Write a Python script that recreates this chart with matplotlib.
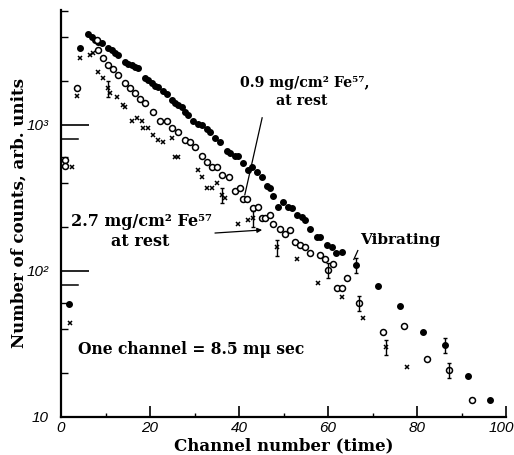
import matplotlib
matplotlib.use("Agg")
import matplotlib.pyplot as plt
import matplotlib.transforms as mtransforms
from matplotlib.ticker import FixedLocator, FixedFormatter

# ---- data ----
filled_ch = [1.8, 4.3, 6.1, 7.0, 7.6, 8.3, 9.2, 10.6, 11.5, 12.1, 12.8, 14.4,
             15.1, 16.0, 16.6, 17.3, 18.9, 19.6, 20.4, 21.1, 21.8, 22.9,
             23.8, 24.9, 25.6, 26.3, 27.2, 27.9, 28.5, 29.7, 30.8, 31.7,
             32.8, 33.5, 34.6, 35.7, 37.3, 38.0, 39.1, 39.8, 40.9, 42.0,
             42.9, 44.0, 45.2, 46.3, 47.0, 47.6, 48.8, 49.9, 51.0, 51.9,
             53.0, 54.2, 54.8, 56.0, 57.5, 58.2, 59.8, 60.9, 61.8, 63.1,
             66.3, 71.2, 76.2, 81.4, 86.3, 91.4, 96.4]
filled_val = [59, 3390, 4170, 3980, 3800, 3720, 3630, 3390, 3240, 3090, 3020, 2690,
              2630, 2570, 2510, 2450, 2090, 2040, 1950, 1860, 1820, 1700,
              1620, 1480, 1410, 1380, 1320, 1230, 1170, 1070, 1020, 1000,
              933, 891, 813, 759, 661, 646, 617, 617, 550, 490,
              513, 479, 437, 380, 372, 324, 275, 295, 275, 269,
              240, 234, 224, 195, 170, 170, 151, 145, 132, 135,
              110, 79, 58, 38, 31, 19, 13]

open_ch = [1.0, 1.0, 3.6, 8.1, 8.3, 9.4, 10.6, 11.7, 12.8, 14.4, 15.5, 16.6,
           17.8, 18.9, 20.7, 22.2, 23.8, 24.9, 26.3, 27.9, 29.0, 30.1,
           31.7, 32.8, 33.9, 35.1, 36.2, 37.8, 39.1, 40.2, 40.9, 41.8,
           43.1, 44.3, 45.2, 45.8, 47.0, 47.6, 49.2, 50.3, 51.5, 52.6,
           53.7, 54.8, 56.0, 58.2, 59.3, 60.0, 61.1, 62.0, 63.1, 64.3,
           67.0, 72.4, 77.1, 82.2, 87.2, 92.4]
open_val = [575, 525, 1780, 3800, 3240, 2880, 2570, 2400, 2190, 1950, 1780, 1660,
            1510, 1410, 1230, 1070, 1070, 955, 891, 794, 759, 708,
            617, 562, 513, 513, 457, 437, 355, 372, 309, 309,
            269, 275, 229, 229, 240, 209, 195, 178, 191, 158,
            151, 145, 132, 129, 120, 102, 112, 76, 76, 89,
            60, 38, 42, 25, 21, 13]

cross_ch = [2.0, 2.5, 3.6, 4.3, 6.5, 7.2, 8.3, 9.4, 10.6, 11.0, 12.6, 13.9,
            14.4, 16.0, 17.1, 18.2, 18.4, 19.6, 20.7, 21.8, 22.9, 24.9,
            25.6, 26.3, 30.8, 31.7, 32.8, 33.9, 35.1, 36.2, 36.9, 39.8,
            42.0, 43.1, 48.5, 53.0, 57.8, 63.1, 67.9, 73.0, 77.8]
cross_val = [44, 513, 1580, 2880, 3020, 3090, 2290, 2090, 1780, 1660, 1550, 1380,
             1320, 1070, 1120, 1070, 955, 955, 851, 794, 759, 813,
             603, 603, 490, 437, 372, 372, 398, 331, 316, 209,
             224, 229, 145, 120, 83, 66, 48, 30, 22]

# points drawn with statistical error bars
err_filled_ch = [66.3, 86.3]
err_filled_val = [110, 31]
err_open_ch = [60.0, 67.0, 87.2]
err_open_val = [102, 60, 21]
err_cross_ch = [10.6, 36.2, 43.1, 48.5, 73.0]
err_cross_val = [1780, 331, 229, 145, 30]
err_rel = 0.12

x_ticks = [0, 20, 40, 60, 80, 100]
x_ticklabels = ["0", "20", "40", "60", "80", "100"]
y_ticks = [10, 100, 1000]
y_ticklabels = ["10", "10²", "10³"]

# ---- figure ----
fig = plt.figure(figsize=(5.14, 4.55), dpi=100)
ax = fig.add_axes([61/514, 1-417/455, 445/514, 407/455])
ax.set_yscale("log")
ax.set_xlim(0, 100)
ax.set_ylim(10, 10**(1+407/146))

ax.plot(filled_ch, filled_val, "o", ms=4.0, color="black", mec="black")
ax.plot(open_ch, open_val, "o", ms=4.3, mfc="white", mec="black", mew=1.1)
ax.plot(cross_ch, cross_val, "x", ms=3.3, color="black", mew=1.1)

for chs, vals in ((err_filled_ch, err_filled_val), (err_open_ch, err_open_val),
                  (err_cross_ch, err_cross_val)):
    ax.errorbar(chs, vals, yerr=[[v*err_rel for v in vals], [v*err_rel for v in vals]],
                fmt="none", ecolor="black", elinewidth=1.0, capsize=1.5)

for s in ("top", "right"):
    ax.spines[s].set_visible(False)
ax.spines["left"].set_linewidth(1.6)
ax.spines["bottom"].set_linewidth(1.6)

ax.xaxis.set_major_locator(FixedLocator(x_ticks))
ax.xaxis.set_major_formatter(FixedFormatter(x_ticklabels))
ax.xaxis.set_minor_locator(FixedLocator([10, 30, 50, 70, 90]))
ax.yaxis.set_major_locator(FixedLocator(y_ticks))
ax.yaxis.set_major_formatter(FixedFormatter(y_ticklabels))
ax.yaxis.set_minor_locator(FixedLocator([20, 40, 60, 200, 400, 600, 2000, 4000, 6000]))
ax.yaxis.set_minor_formatter(FixedFormatter([""] * 9))
ax.tick_params(axis="x", which="major", direction="in", length=8, width=1.2, pad=3)
ax.tick_params(axis="x", which="minor", direction="in", length=3, width=1.0)
ax.tick_params(axis="y", which="major", direction="in", length=20, width=1.2, pad=9)
ax.tick_params(axis="y", which="minor", direction="in", length=5, width=1.0)
for lab in ax.get_xticklabels() + ax.get_yticklabels():
    lab.set_fontfamily("Liberation Sans")
    lab.set_fontstyle("italic")
    lab.set_fontsize(11)
# keep the right-most label inside the picture
xl = ax.get_xticklabels()[-1]
xl.set_transform(xl.get_transform() +
                 mtransforms.ScaledTranslation(-5/100, 0, fig.dpi_scale_trans))

# longer marks at 80 and 800 counts on the left axis
ytr = ax.get_yaxis_transform()
for yv in (80, 800):
    ax.plot([0, 17/445], [yv, yv], color="black", lw=1.1, transform=ytr, clip_on=False)

serif = dict(family="DejaVu Serif", weight="bold", color="black")
ax.set_xlabel("Channel number (time)", fontsize=12, **serif)
ax.xaxis.set_label_coords(0.5, -(437-417)/407)
ax.set_ylabel("Number of counts, arb. units", fontsize=12, **serif)
ax.yaxis.set_label_coords(-(61-28)/445, 0.5)

ax.text(54.8, 1950, "0.9 mg/cm² Fe⁵⁷,", ha="center", va="center", fontsize=10.2, **serif)
ax.text(54.2, 1450, "at rest", ha="center", va="center", fontsize=10.2, **serif)
ax.text(18.2, 218, "2.7 mg/cm² Fe⁵⁷", ha="center", va="center", fontsize=11.5, **serif)
ax.text(17.8, 158, "at rest", ha="center", va="center", fontsize=11.5, **serif)
ax.text(76.2, 163, "Vibrating", ha="center", va="center", fontsize=11, **serif)
ax.text(3.8, 29, "One channel = 8.5 mμ sec", ha="left", va="center", fontsize=11.2, **serif)

ax.plot([45.2, 41.3], [1120, 332], color="black", lw=0.9)
ax.plot([66.7, 65.8], [138, 120], color="black", lw=0.9)
ax.annotate("", xy=(45.2, 191), xytext=(34.6, 182),
            arrowprops=dict(arrowstyle="-|>", color="black", lw=0.9,
                            mutation_scale=7, shrinkA=0, shrinkB=0))

fig.savefig("out.png", dpi=100)
